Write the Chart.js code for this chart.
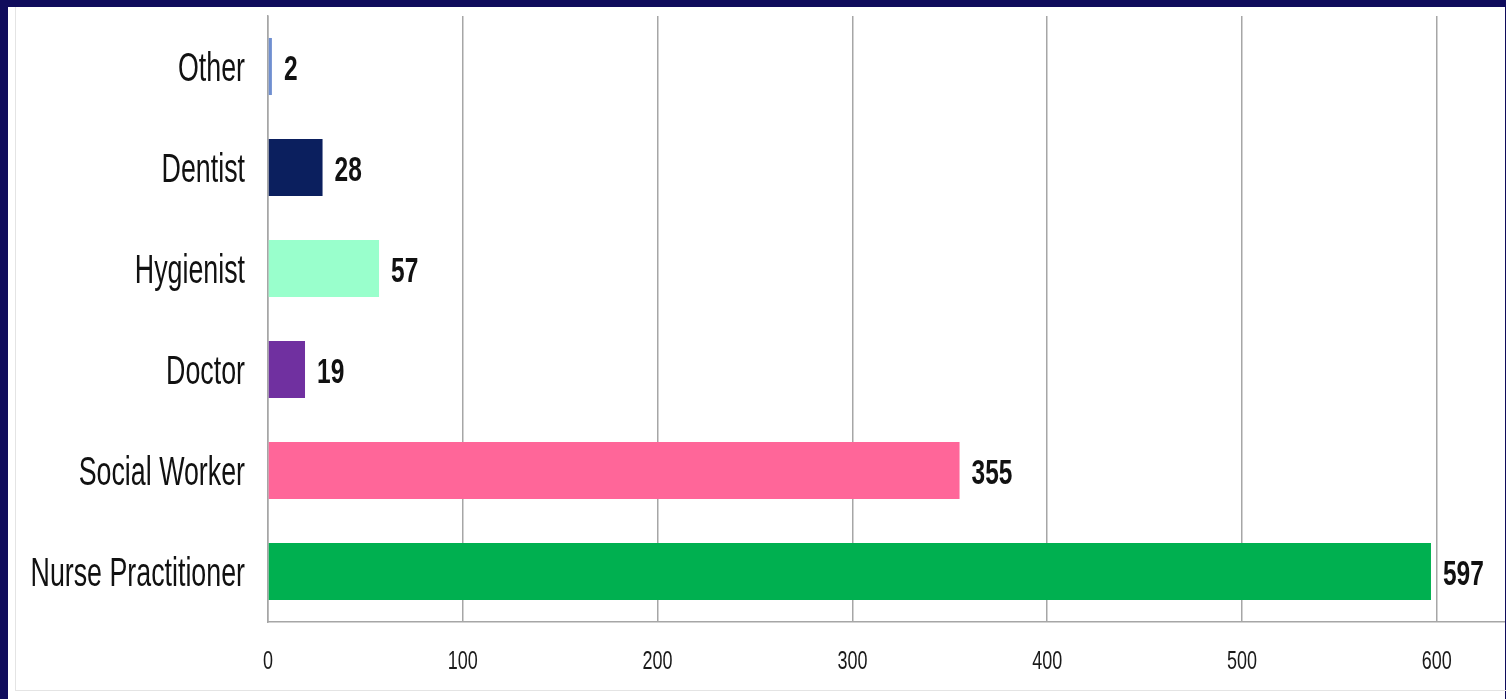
<!DOCTYPE html>
<html>
<head>
<meta charset="utf-8">
<script src="https://cdn.jsdelivr.net/npm/chart.js@4"></script>
<style>
  html, body { margin: 0; padding: 0; }
  body { width: 1506px; height: 699px; background: #100c5c; position: relative; overflow: hidden; }
  .panel { position: absolute; left: 8px; top: 7px; width: 1497px; height: 692px; background: #fff; }
  .frame { position: absolute; left: 7px; top: 0; width: 1490px; height: 683px; border-left: 1px solid #e4e4e4; border-bottom: 1px solid #e4e4e4; pointer-events: none; }
  canvas { position: absolute; left: 0; top: 0; }
</style>
</head>
<body>
<div class="panel">
  <canvas id="profChart" width="1497" height="692"></canvas>
  <div class="frame"></div>
</div>
<script>
// DATA
const categories = ['Other', 'Dentist', 'Hygienist', 'Doctor', 'Social Worker', 'Nurse Practitioner'];
const counts = [2, 28, 57, 19, 355, 597];
const barColors = ['#6f8fd0', '#0b1f5e', '#99ffcc', '#7030a0', '#ff6699', '#00b050'];
const tickValues = [0, 100, 200, 300, 400, 500, 600];

// draw text squeezed sideways (the picture uses a narrow face)
function squeezed(ctx, text, x, y, sx, align) {
    ctx.save();
    ctx.translate(x, y);
    ctx.scale(sx, 1);
    ctx.textAlign = align;
    ctx.textBaseline = 'middle';
    ctx.fillText(text, 0, 0);
    ctx.restore();
}

// LABELS PLUGIN
const labelPlugin = {
    id: 'labels',
    afterDraw(chart) {
        const ctx = chart.ctx;
        const xs = chart.scales.x;
        const ys = chart.scales.y;
        const meta = chart.getDatasetMeta(0);

        ctx.fillStyle = '#111';
        ctx.font = '40px "Liberation Sans", Arial, sans-serif';
        categories.forEach((c, i) => {
            squeezed(ctx, c, ys.right - 23, ys.getPixelForValue(i) + 3, 0.67, 'right');
        });

        ctx.font = 'bold 35px "Liberation Sans", Arial, sans-serif';
        meta.data.forEach((bar, i) => {
            squeezed(ctx, String(counts[i]), bar.x + 12, bar.y + 4, 0.7, 'left');
        });

        ctx.fillStyle = '#1a1a1a';
        ctx.font = '25px "Liberation Sans", Arial, sans-serif';
        tickValues.forEach(v => {
            squeezed(ctx, String(v), xs.getPixelForValue(v), xs.top + 40, 0.72, 'center');
        });
    }
};

new Chart(document.getElementById('profChart'), {
    type: 'bar',
    data: {
        labels: categories,
        datasets: [{
            data: counts,
            backgroundColor: barColors,
            barPercentage: 0.565,
            categoryPercentage: 1
        }]
    },
    options: {
        indexAxis: 'y',
        responsive: false,
        animation: false,
        layout: { padding: { top: 9, right: 0, left: 0, bottom: 0 } },
        plugins: {
            legend: { display: false },
            tooltip: { enabled: false }
        },
        scales: {
            x: {
                min: 0,
                max: 635,
                afterBuildTicks: axis => { axis.ticks = tickValues.map(v => ({ value: v })); },
                afterFit: axis => { axis.height = 77; },
                grid: { color: '#a6a6a6', lineWidth: 1.5, drawTicks: false },
                border: { display: true, color: '#a6a6a6', width: 1.5 },
                ticks: { display: false }
            },
            y: {
                afterFit: axis => { axis.width = 260; },
                grid: { display: false, drawTicks: false },
                border: { display: true, color: '#a6a6a6', width: 1.5 },
                ticks: { display: false }
            }
        }
    },
    plugins: [labelPlugin]
});
</script>
</body>
</html>
